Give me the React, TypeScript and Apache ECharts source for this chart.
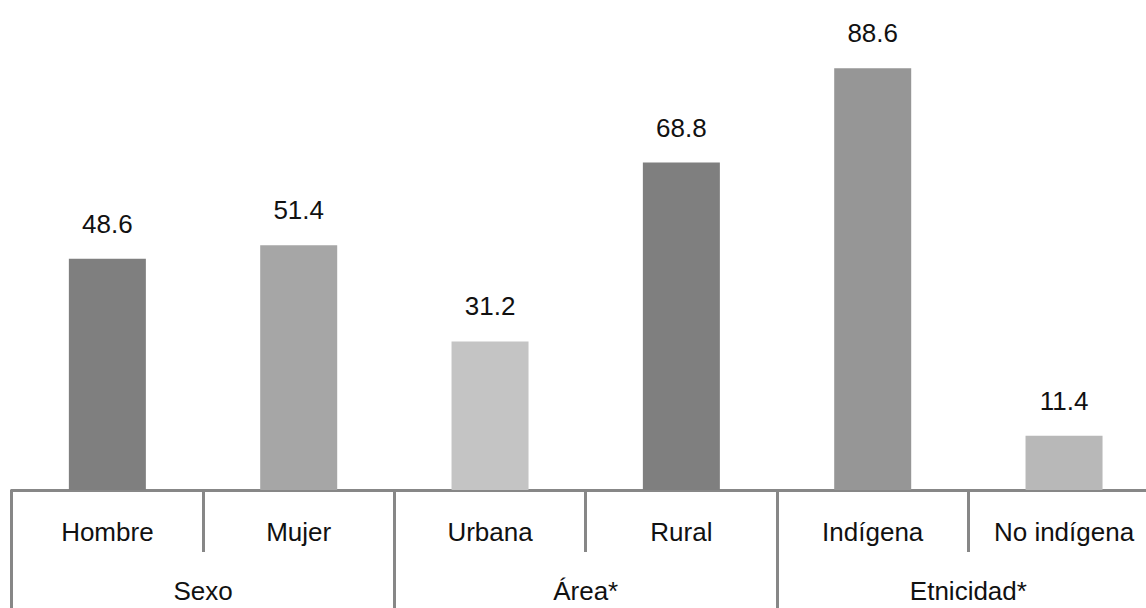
import React, { useEffect, useRef } from "react";
import * as echarts from "echarts";

const categories = ["Hombre", "Mujer", "Urbana", "Rural", "Indígena", "No indígena"];
const groups = ["Sexo", "Área*", "Etnicidad*"];
const values = [48.6, 51.4, 31.2, 68.8, 88.6, 11.4];
const barColors = ["#7f7f7f", "#a6a6a6", "#c4c4c4", "#7f7f7f", "#969696", "#b8b8b8"];

const FONT = "'Liberation Sans', Arial, sans-serif";
const LINE = "#878787";

export default function App() {
  const ref = useRef<HTMLDivElement>(null);
  useEffect(() => {
    if (!ref.current) return;
    const chart = echarts.init(ref.current, undefined, { renderer: "svg" });
    chart.setOption({
      animation: false,
      backgroundColor: "#ffffff",
      grid: { left: 11.7, width: 1148, top: 14, height: 476 },
      xAxis: [
        {
          type: "category",
          data: categories,
          position: "bottom",
          axisLine: { show: true, lineStyle: { color: LINE, width: 3 } },
          axisTick: { show: true, length: 62, interval: 0, lineStyle: { color: LINE, width: 3 } },
          axisLabel: { interval: 0, margin: 29, fontSize: 26, fontFamily: FONT, color: "#111111" },
          splitLine: { show: false },
        },
        {
          type: "category",
          data: groups,
          position: "bottom",
          axisLine: { show: true, lineStyle: { color: LINE, width: 3 } },
          axisTick: { show: true, length: 125, interval: 0, lineStyle: { color: LINE, width: 3 } },
          axisLabel: { interval: 0, margin: 88, fontSize: 26, fontFamily: FONT, color: "#111111" },
          splitLine: { show: false },
        },
      ],
      yAxis: {
        type: "value",
        min: 0,
        max: 100,
        show: false,
        splitLine: { show: false },
      },
      series: [
        {
          type: "bar",
          xAxisIndex: 0,
          barWidth: 77,
          data: values.map((v, i) => ({ value: v, itemStyle: { color: barColors[i] } })),
          label: {
            show: true,
            position: "top",
            distance: 22,
            fontSize: 26,
            fontFamily: FONT,
            color: "#111111",
            formatter: (p: any) => Number(p.value).toFixed(1),
          },
        },
      ],
    });
    return () => chart.dispose();
  }, []);
  return (
    <div
      ref={ref}
      style={{ position: "fixed", left: 0, top: 0, width: 1172, height: 608, background: "#ffffff" }}
    />
  );
}
